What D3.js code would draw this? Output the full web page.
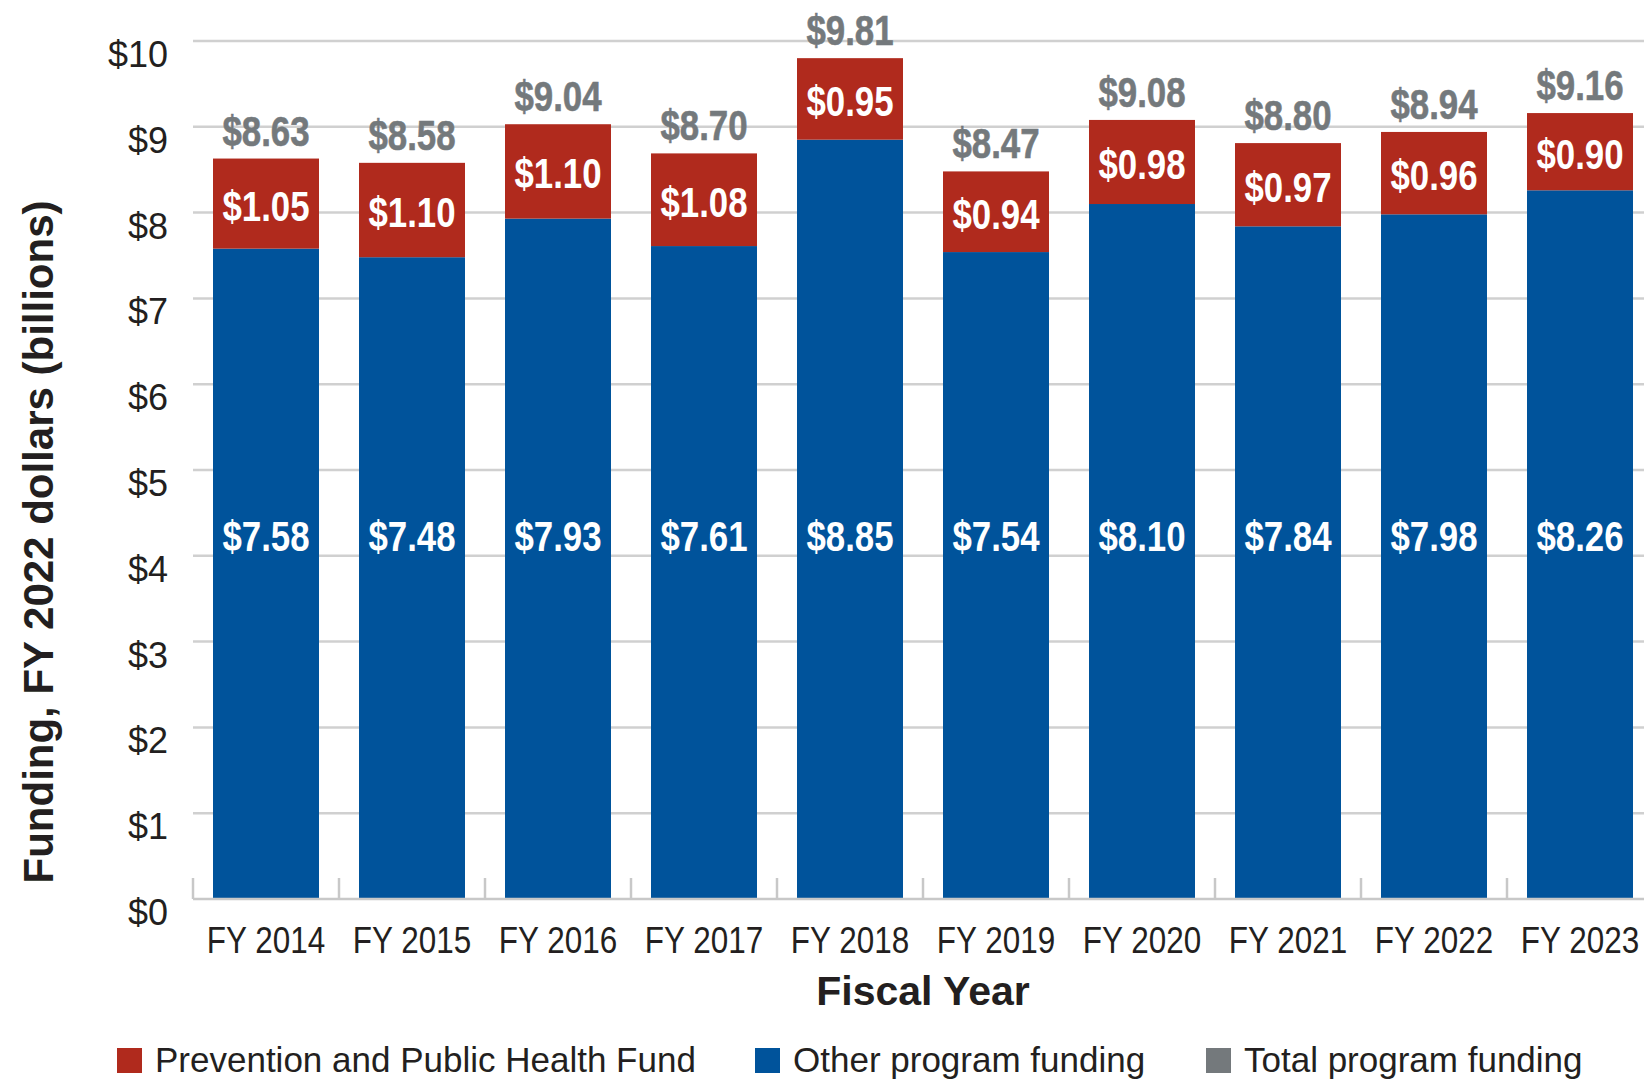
<!DOCTYPE html>
<html>
<head>
<meta charset="utf-8" />
<title>Funding</title>
<script src="https://cdnjs.cloudflare.com/ajax/libs/d3/7.8.5/d3.min.js"></script>
<style>
html, body {
    margin: 0px;
    padding: 0px;
    background: #fff;
}
text { font-family: "Liberation Sans", Arial, sans-serif; }
</style>
</head>
<body>
<div id="chart"></div>
<script>
!(function(){
    "use strict"

    var years = ["FY 2014", "FY 2015", "FY 2016", "FY 2017", "FY 2018", "FY 2019", "FY 2020", "FY 2021", "FY 2022", "FY 2023"];
    var pphf  = [1.05, 1.10, 1.10, 1.08, 0.95, 0.94, 0.98, 0.97, 0.96, 0.90];
    var other = [7.58, 7.48, 7.93, 7.61, 8.85, 7.54, 8.10, 7.84, 7.98, 8.26];
    var total = [8.63, 8.58, 9.04, 8.70, 9.81, 8.47, 9.08, 8.80, 8.94, 9.16];
    var yTicks = [0, 1, 2, 3, 4, 5, 6, 7, 8, 9, 10];
    var legendItems = ["Prevention and Public Health Fund", "Other program funding", "Total program funding"];

    var RED = "#b02a1d", BLUE = "#00539b", GRAY = "#74797c", INK = "#231f20";

    var W = 1644, H = 1081;
    var svg = d3.select("#chart").append("svg")
        .attr("width", W).attr("height", H);

    var x = d3.scaleBand().domain(years)
        .range([193, 1653])
        .paddingInner(0.274).paddingOuter(0.137);
    var y = d3.scaleLinear().domain([0, 10]).range([899, 41]);

    // grid
    svg.append("g").selectAll("line")
        .data(yTicks.slice(1))
        .enter().append("line")
        .attr("x1", 193).attr("x2", W)
        .attr("y1", function(d){ return y(d) }).attr("y2", function(d){ return y(d) })
        .attr("stroke", "#d0d0d0").attr("stroke-width", 2.5);

    // y labels
    svg.append("g").selectAll("text")
        .data(yTicks)
        .enter().append("text")
        .attr("x", 168).attr("y", function(d){ return y(d) + 26 })
        .attr("text-anchor", "end")
        .attr("font-size", 36)
        .attr("fill", INK)
        .text(function(d){ return "$" + d });

    // bars
    var g = svg.append("g");
    g.selectAll("rect.other")
        .data(years)
        .enter().append("rect")
        .attr("x", function(d){ return x(d) })
        .attr("width", x.bandwidth())
        .attr("y", function(d, i){ return y(other[i]) })
        .attr("height", function(d, i){ return y(0) - y(other[i]) })
        .attr("fill", BLUE);
    g.selectAll("rect.pphf")
        .data(years)
        .enter().append("rect")
        .attr("x", function(d){ return x(d) })
        .attr("width", x.bandwidth())
        .attr("y", function(d, i){ return y(other[i] + pphf[i]) })
        .attr("height", function(d, i){ return y(other[i]) - y(other[i] + pphf[i]) })
        .attr("fill", RED);

    // axis line and ticks
    svg.append("line")
        .attr("x1", 193).attr("x2", W)
        .attr("y1", y(0)).attr("y2", y(0))
        .attr("stroke", "#c8c8c8").attr("stroke-width", 2.5);
    svg.append("g").selectAll("line")
        .data(d3.range(years.length + 1))
        .enter().append("line")
        .attr("x1", function(i){ return 193 + i * x.step() })
        .attr("x2", function(i){ return 193 + i * x.step() })
        .attr("y1", y(0)).attr("y2", y(0) - 21)
        .attr("stroke", "#c8c8c8").attr("stroke-width", 2.5);

    // value labels (condensed look via horizontal squeeze)
    var bx = function(d){ return x(d) + x.bandwidth() / 2 };
    function money(v){ return "$" + v.toFixed(2) }
    function squeeze(sel, fx, fy, s) {
        sel.attr("transform", function(d, i){
            return "translate(" + fx(d, i) + "," + fy(d, i) + ") scale(" + s + ",1)";
        });
    }

    var tot = g.selectAll("text.tot")
        .data(years)
        .enter().append("text")
        .attr("text-anchor", "middle")
        .attr("font-size", 43).attr("font-weight", "bold")
        .attr("fill", GRAY)
        .attr("stroke", GRAY).attr("stroke-width", 0.6)
        .text(function(d, i){ return money(total[i]) });
    squeeze(tot, bx, function(d, i){ return y(other[i] + pphf[i]) - 13 }, 0.81);

    var pp = g.selectAll("text.pp")
        .data(years)
        .enter().append("text")
        .attr("text-anchor", "middle")
        .attr("font-size", 43).attr("font-weight", "bold")
        .attr("fill", "#fff")
        .text(function(d, i){ return money(pphf[i]) });
    squeeze(pp, bx, function(d, i){ return (y(other[i]) + y(other[i] + pphf[i])) / 2 + 17 }, 0.81);

    var ot = g.selectAll("text.ot")
        .data(years)
        .enter().append("text")
        .attr("text-anchor", "middle")
        .attr("font-size", 43).attr("font-weight", "bold")
        .attr("fill", "#fff")
        .text(function(d, i){ return money(other[i]) });
    squeeze(ot, bx, function(){ return y(4.25) + 17 }, 0.81);

    // x labels
    var xl = svg.append("g").selectAll("text")
        .data(years)
        .enter().append("text")
        .attr("text-anchor", "middle")
        .attr("font-size", 37)
        .attr("fill", INK)
        .text(function(d){ return d });
    squeeze(xl, bx, function(){ return 953 }, 0.85);

    // titles
    svg.append("text")
        .attr("x", 923).attr("y", 1005)
        .attr("text-anchor", "middle")
        .attr("font-size", 41).attr("font-weight", "bold")
        .attr("fill", INK)
        .text("Fiscal Year");

    svg.append("text")
        .attr("transform", "translate(53,542) rotate(-90)")
        .attr("text-anchor", "middle")
        .attr("font-size", 42).attr("font-weight", "bold")
        .attr("fill", INK)
        .text("Funding, FY 2022 dollars (billions)");

    // legend
    var legX = [117, 755, 1206];
    var legC = [RED, BLUE, GRAY];
    var leg = svg.append("g").selectAll("g")
        .data(legendItems)
        .enter().append("g")
        .attr("transform", function(d, i){ return "translate(" + legX[i] + ",0)" });
    leg.append("rect")
        .attr("x", 0).attr("y", 1048).attr("width", 25).attr("height", 25)
        .attr("fill", function(d, i){ return legC[i] });
    leg.append("text")
        .attr("x", 38).attr("y", 1072)
        .attr("font-size", 35)
        .attr("fill", INK)
        .text(function(d){ return d });

}());
</script>
</body>
</html>
